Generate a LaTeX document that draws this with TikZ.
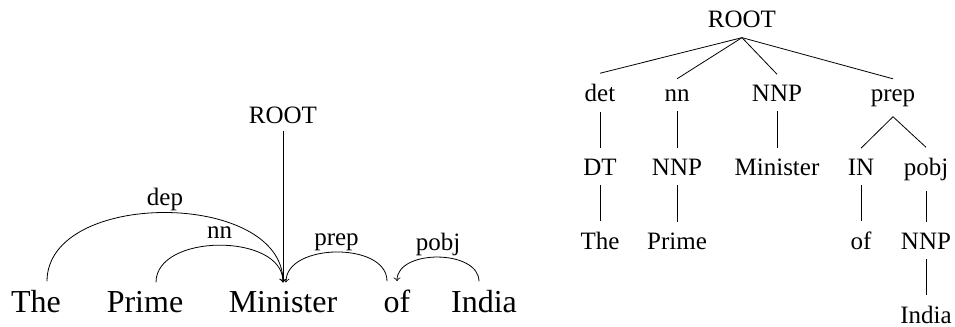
\documentclass[tikz,border=0pt]{standalone}
\usepackage{fontspec}
\setmainfont{Liberation Serif}
\usetikzlibrary{arrows}
\tikzset{
  word/.style={font=\fontsize{16}{19}\selectfont, anchor=base, inner sep=4pt},
  tag/.style={font=\fontsize{12.5}{15}\selectfont, anchor=base, inner sep=5pt},
  deplabel/.style={font=\fontsize{12.5}{15}\selectfont, anchor=base, yshift=3.5pt, inner sep=0pt}
}

\begin{document}
\begin{tikzpicture}[x=0.5pt, y=0.5pt]
\useasboundingbox (0,0) rectangle (955,-327);
% dependency arcs
\node[word] (d1) at (36,-312) {The};
\node[word] (d2) at (145,-312) {Prime};
\node[word] (d3) at (283,-312) {Minister};
\node[word] (d4) at (397,-312) {of};
\node[word] (d5) at (484,-312) {India};
\node[tag, inner sep=3.5pt] (d0) at (283,-123) {ROOT};
\draw [->] (d0) -- (d3);
\draw [->] ([xshift=5.5pt]d1.north) to[out=90, in=90] node [deplabel]{dep} (d3.north);
\draw [->] ([xshift=5.5pt]d2.north) to[out=90, in=90] node [deplabel]{nn} (d3.north);
\draw [->] ([xshift=-5pt]d4.north) to[out=90, in=90] node [deplabel]{prep} ([xshift=1.5pt]d3.north);
\draw [->] ([xshift=-2.5pt]d5.north) to[out=90, in=90] node [deplabel]{pobj} (d4.north);
% parse tree
\node[tag] (t0) at (742,-27) {ROOT};
\node[tag] (t1) at (600,-101) {det};
\node[tag] (t2) at (677,-101) {nn};
\node[tag] (t3) at (777,-101) {NNP};
\node[tag] (t4) at (893,-101) {prep};
\node[tag] (t5) at (600,-175) {DT};
\node[tag] (t6) at (677,-175) {NNP};
\node[tag] (t7) at (777,-175) {Minister};
\node[tag] (t8) at (861,-175) {IN};
\node[tag] (t9) at (926,-175) {pobj};
\node[tag] (t10) at (600,-249) {The};
\node[tag] (t11) at (677,-249) {Prime};
\node[tag] (t12) at (861,-249) {of};
\node[tag] (t13) at (926,-249) {NNP};
\node[tag] (t14) at (926,-323) {India};
\foreach \a/\b in {t0/t1, t0/t2, t0/t3, t0/t4, t1/t5, t2/t6, t3/t7, t4/t8, t4/t9, t5/t10, t6/t11, t8/t12, t9/t13, t13/t14}
  \draw (\a.south) -- (\b.north);
\end{tikzpicture}
\end{document}
